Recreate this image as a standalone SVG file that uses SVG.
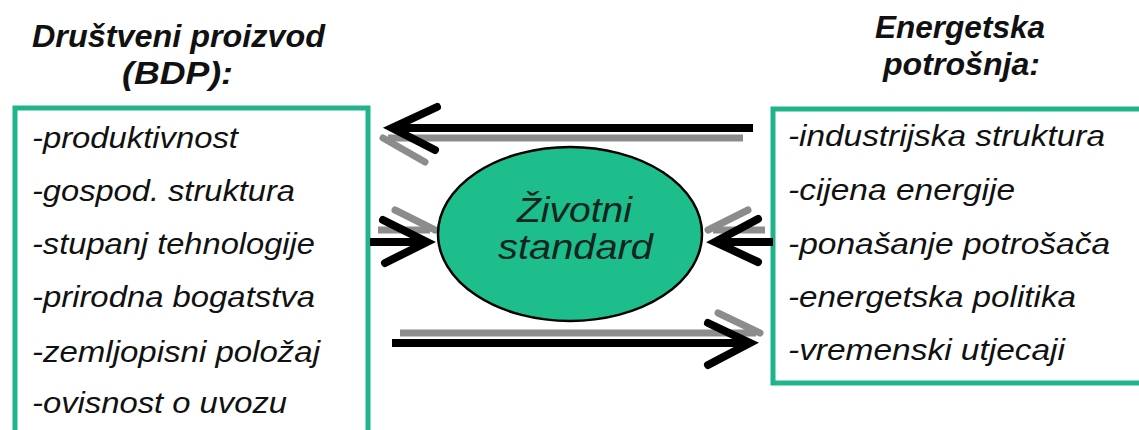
<svg xmlns="http://www.w3.org/2000/svg" width="1139" height="430" viewBox="0 0 1139 430">
<style>
.title{font-family:"Liberation Sans",Arial,sans-serif;font-weight:bold;font-style:italic;font-size:32px;fill:#111}
.item{font-family:"Liberation Sans",Arial,sans-serif;font-style:italic;font-size:30px;fill:#111}
.ell{font-family:"Liberation Sans",Arial,sans-serif;font-style:italic;font-size:35px;fill:#142520}
.box{fill:none;stroke:#20b48c;stroke-width:5}
.blk{fill:none;stroke:#000;stroke-width:8;stroke-linecap:round;stroke-linejoin:miter}
.gry{fill:none;stroke:#8c8c8c;stroke-width:7;stroke-linecap:round;stroke-linejoin:miter}
.shaft{stroke-linecap:butt}
</style>
<rect width="1139" height="430" fill="#fff"/>
<g id="title-left">
<text class="title" x="32" y="47" textLength="293" lengthAdjust="spacingAndGlyphs">Društveni proizvod</text>
<text class="title" x="122" y="84" textLength="111" lengthAdjust="spacingAndGlyphs">(BDP):</text>
</g>
<g id="title-right">
<text class="title" x="875" y="38" textLength="170" lengthAdjust="spacingAndGlyphs">Energetska</text>
<text class="title" x="883" y="75" textLength="157" lengthAdjust="spacingAndGlyphs">potrošnja:</text>
</g>
<g id="box-left">
<rect class="box" x="15" y="108" width="353" height="340"/>
<text class="item" x="32" y="148" textLength="206" lengthAdjust="spacingAndGlyphs">-produktivnost</text>
<text class="item" x="32" y="201" textLength="263" lengthAdjust="spacingAndGlyphs">-gospod. struktura</text>
<text class="item" x="32" y="254" textLength="283" lengthAdjust="spacingAndGlyphs">-stupanj tehnologije</text>
<text class="item" x="32" y="307" textLength="283" lengthAdjust="spacingAndGlyphs">-prirodna bogatstva</text>
<text class="item" x="32" y="362" textLength="288" lengthAdjust="spacingAndGlyphs">-zemljopisni položaj</text>
<text class="item" x="32" y="413" textLength="255" lengthAdjust="spacingAndGlyphs">-ovisnost o uvozu</text>
</g>
<g id="box-right">
<rect class="box" x="773" y="109" width="380" height="274"/>
<text class="item" x="788" y="146" textLength="317" lengthAdjust="spacingAndGlyphs">-industrijska struktura</text>
<text class="item" x="788" y="200" textLength="227" lengthAdjust="spacingAndGlyphs">-cijena energije</text>
<text class="item" x="788" y="254" textLength="322" lengthAdjust="spacingAndGlyphs">-ponašanje potrošača</text>
<text class="item" x="788" y="307" textLength="288" lengthAdjust="spacingAndGlyphs">-energetska politika</text>
<text class="item" x="788" y="360" textLength="277" lengthAdjust="spacingAndGlyphs">-vremenski utjecaji</text>
</g>
<g id="connectors">
<line class="gry shaft" x1="743" y1="138" x2="388" y2="138"/>
<path class="gry" d="M425 162 L383 138"/>
<line class="blk shaft" x1="753" y1="128" x2="396" y2="128"/>
<path class="blk" d="M437 107 L392 128 L435 150"/>
<line class="gry shaft" x1="378" y1="230" x2="430" y2="230"/>
<path class="gry" d="M395 210 L435 230"/>
<line class="blk shaft" x1="370" y1="242" x2="422" y2="242"/>
<path class="blk" d="M383 220 L427 242 L385 263"/>
<line class="gry shaft" x1="765" y1="230" x2="713" y2="230"/>
<path class="gry" d="M748 210 L708 230"/>
<line class="blk shaft" x1="773" y1="242" x2="720" y2="242"/>
<path class="blk" d="M758 219 L715 242 L758 262"/>
<line class="gry shaft" x1="400" y1="333" x2="756" y2="333"/>
<path class="gry" d="M718 313 L760 333"/>
<line class="blk shaft" x1="392" y1="343" x2="745" y2="343"/>
<path class="blk" d="M708 323 L750 343 L708 365"/>
</g>
<g id="ellipse">
<ellipse cx="570" cy="234" rx="132" ry="87" fill="#1dbd8c" stroke="#000" stroke-width="2.5"/>
<text class="ell" x="517" y="222" textLength="115" lengthAdjust="spacingAndGlyphs">Životni</text>
<text class="ell" x="498" y="259" textLength="155" lengthAdjust="spacingAndGlyphs">standard</text>
</g>
</svg>
